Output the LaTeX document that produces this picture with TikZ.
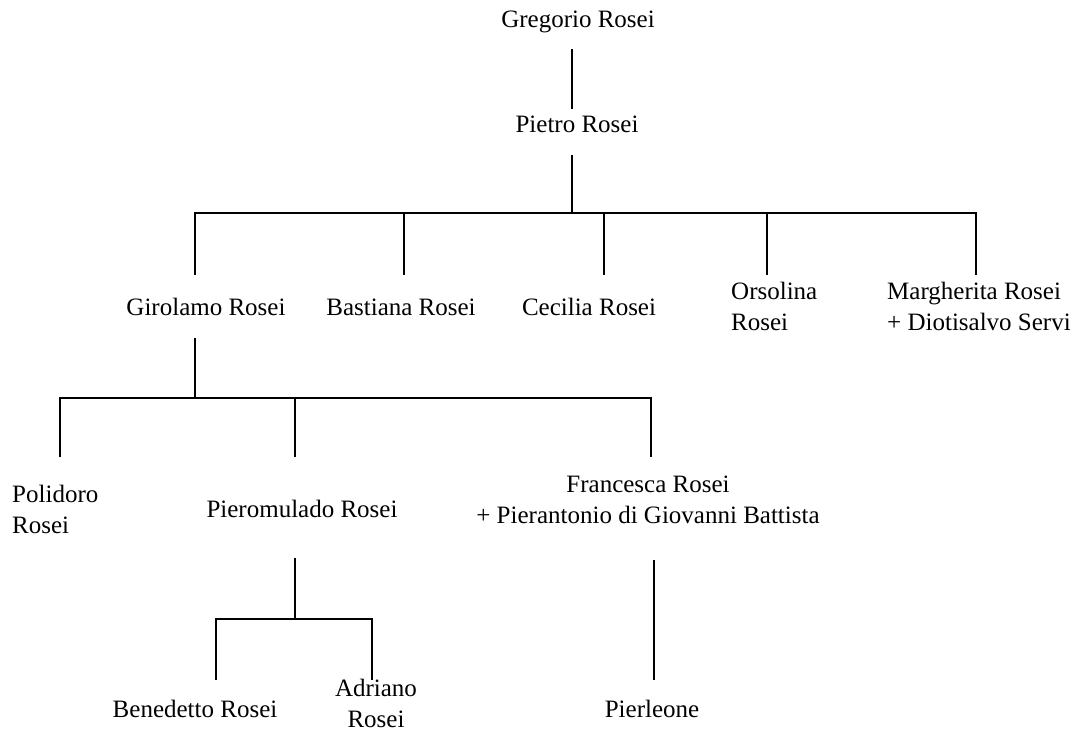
\documentclass[tikz,border=0pt]{standalone}
\usepackage{fontspec}
\setmainfont{Liberation Serif}
\begin{document}
\begin{tikzpicture}[x=1pt,y=-1pt,
  person/.style={inner sep=0pt, font=\fontsize{25}{30.5}\selectfont},
  tree/.style={draw, line width=2.3pt},
  gap/.style 2 args={shorten <=#1, shorten >=#2}]
\useasboundingbox (0,0) rectangle (1083,734);

% names (base of a two-line name is its last line)
\node[person, anchor=base] (gregorio) at (578,27) {Gregorio Rosei};
\node[person, anchor=base] (pietro) at (577,132) {Pietro Rosei};

\node[person, anchor=base] (girolamo) at (206,315) {Girolamo Rosei};
\node[person, anchor=base] (bastiana) at (401,315) {Bastiana Rosei};
\node[person, anchor=base] (cecilia) at (589,315) {Cecilia Rosei};
\node[person, anchor=base west, align=left] (orsolina) at (731,330) {Orsolina\\Rosei};
\node[person, anchor=base west, align=left] (margherita) at (887,330) {Margherita Rosei\\+ Diotisalvo Servi};

\node[person, anchor=base west, align=left] (polidoro) at (12,533) {Polidoro\\Rosei};
\node[person, anchor=base] (pieromulado) at (302,517) {Pieromulado Rosei};
\node[person, anchor=base, align=center] (francesca) at (648,523) {Francesca Rosei\\+ Pierantonio di Giovanni Battista};

\node[person, anchor=base] (benedetto) at (195,717) {Benedetto Rosei};
\node[person, anchor=base, align=center] (adriano) at (376,727) {Adriano\\Rosei};
\node[person, anchor=base] (pierleone) at (652,717) {Pierleone};

\coordinate (bar1) at (572,213);
\coordinate (bar2) at (195,398);
\coordinate (bar3) at (295,619);

% Gregorio -> Pietro -> children
\path[tree, gap={22pt}{23pt}] (gregorio.base -| bar1) -- (pietro.base -| bar1);
\path[tree, gap={23pt}{0pt}] (pietro.base -| bar1) -- (bar1);
\path[tree, gap={40pt}{55pt}] (girolamo.base -| 195,0) -- (195,213) -- (976,213) -- (margherita.base -| 976,0);
\path[tree, gap={0pt}{40pt}] (404,213) -- (bastiana.base -| 404,0);
\path[tree, gap={0pt}{40pt}] (604,213) -- (cecilia.base -| 604,0);
\path[tree, gap={0pt}{55pt}] (767,213) -- (orsolina.base -| 767,0);

% Girolamo -> children
\path[tree, gap={23pt}{0pt}] (girolamo.base -| bar2) -- (bar2);
\path[tree, gap={76pt}{66pt}] (polidoro.base -| 60,0) -- (60,398) -- (651,398) -- (francesca.base -| 651,0);
\path[tree, gap={0pt}{60pt}] (295,398) -- (pieromulado.base -| 295,0);

% Pieromulado -> children
\path[tree, gap={41pt}{0pt}] (pieromulado.base -| bar3) -- (bar3);
\path[tree, gap={37pt}{47pt}] (benedetto.base -| 216,0) -- (216,619) -- (372,619) -- (adriano.base -| 372,0);

% Francesca -> Pierleone
\path[tree, gap={37pt}{37pt}] (francesca.base -| 654,0) -- (pierleone.base -| 654,0);
\end{tikzpicture}
\end{document}
